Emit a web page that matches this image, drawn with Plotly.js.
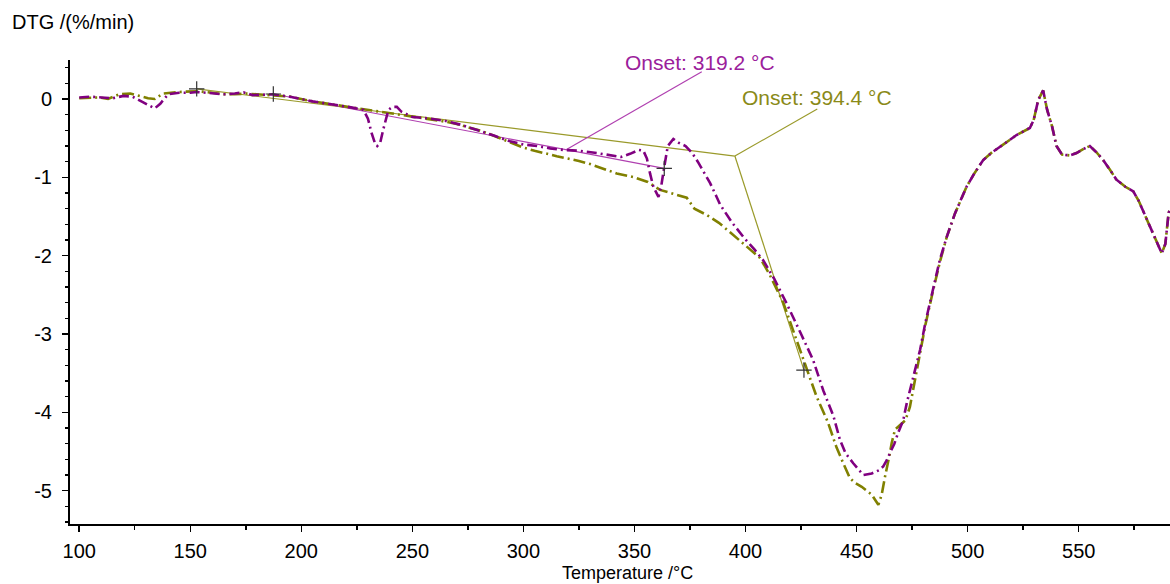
<!DOCTYPE html>
<html>
<head>
<meta charset="utf-8">
<script src="https://cdn.plot.ly/plotly-3.0.1.min.js"></script>
<style>html,body{margin:0;padding:0;background:#fff;}#chart{width:1170px;height:584px;}</style>
</head>
<body>
<div id="chart"></div>
<script>
// Purple series (main part)
const purpleT = [100,105,110,115,120,124,128,131,134,136.5,140,145,150,153,160,165,170,174,178,183,187,195,205,212,217,223,228,230,231.7,233,234.2,235.5,236.8,238,239.2,241,243,245,250,258,265,272,280,287,294,300,306,312,318,325,333,339,344,348,350.2,352,354,355.6,357,358.5,360.8,362,363.5,365,367.5,370,373,376,378.5,381.7,384,387,388.6,394,399,404,408,413,418.5,425,430.4,435,439.6,442.5,445,448.5,451,453,456.8,460,462,463.6,465,467,468.7,471,472.6,476,478.6,481,484.4,487.5];
const purpleD = [0.02,0.03,0.02,0.01,0.04,0.03,-0.03,-0.08,-0.12,-0.06,0.06,0.08,0.08,0.09,0.07,0.06,0.07,0.085,0.05,0.06,0.06,0.03,-0.03,-0.06,-0.08,-0.11,-0.14,-0.25,-0.44,-0.55,-0.6,-0.56,-0.4,-0.25,-0.14,-0.1,-0.1,-0.16,-0.23,-0.25,-0.28,-0.33,-0.4,-0.47,-0.54,-0.58,-0.6,-0.63,-0.65,-0.66,-0.69,-0.72,-0.74,-0.7,-0.67,-0.65,-0.66,-0.76,-0.95,-1.12,-1.25,-1.12,-0.85,-0.6,-0.51,-0.56,-0.6,-0.69,-0.8,-0.95,-1.07,-1.25,-1.35,-1.58,-1.76,-1.92,-2.06,-2.3,-2.61,-3.0,-3.33,-3.72,-4.05,-4.35,-4.52,-4.65,-4.74,-4.8,-4.78,-4.74,-4.69,-4.61,-4.52,-4.4,-4.26,-4.1,-3.88,-3.5,-3.2,-2.85,-2.42,-2.05];

// Olive series (main part)
const oliveT = [100,105,109,113,118,123,127,131,134,137.8,145,150,153,160,165,170,175,180,187,195,205,212,217,223,228,234,240,245,250,255,260,265,270,275,280,285,290,295,300,305,310,315,320,325,330,336,342,350,356,361.5,366.8,373.5,377,382.5,388,393,398,402,406.6,411,417,422,427.6,432,437,441,444,447,449.3,452.3,456.8,458.3,459.8,461.3,462,462.8,465,465.8,467.3,470,472,474,478.6,481,484.4,487.5];
const oliveD = [0.01,0.02,0.02,0.0,0.06,0.07,0.04,0.01,0.0,0.07,0.09,0.1,0.1,0.08,0.06,0.06,0.07,0.06,0.05,0.03,-0.03,-0.06,-0.08,-0.11,-0.13,-0.16,-0.18,-0.2,-0.22,-0.25,-0.27,-0.29,-0.32,-0.36,-0.4,-0.45,-0.51,-0.56,-0.62,-0.66,-0.7,-0.73,-0.76,-0.79,-0.83,-0.89,-0.95,-1.0,-1.06,-1.16,-1.2,-1.26,-1.4,-1.48,-1.58,-1.7,-1.82,-1.92,-2.03,-2.25,-2.6,-3.0,-3.46,-3.8,-4.12,-4.45,-4.65,-4.84,-4.9,-4.95,-5.05,-5.12,-5.18,-5.05,-4.93,-4.82,-4.52,-4.39,-4.22,-4.15,-4.1,-3.93,-3.25,-2.88,-2.45,-2.08];

// Common tail (both curves coincide above ~490 °C)
const tailT = [490.6,494.3,499.5,503,507,511,514.6,518,522,528,529.7,531.8,534,535.8,538,540,542.5,546,549,552,555,558,561,564,567,571,574.6,577,580.6,584,587.4,589,590.5,591.5];
const tailD = [-1.76,-1.46,-1.12,-0.95,-0.78,-0.68,-0.61,-0.54,-0.46,-0.37,-0.27,-0.01,0.11,-0.14,-0.35,-0.6,-0.71,-0.72,-0.69,-0.64,-0.6,-0.68,-0.78,-0.9,-1.03,-1.12,-1.18,-1.3,-1.54,-1.75,-1.97,-1.85,-1.45,-1.4];

// Onset constructions
const purpleBaseT = [187.4, 363.4];
const purpleBaseD = [0.064, -0.885];
const purpleLeaderT = [319.2, 380.3];
const purpleLeaderD = [-0.647, 0.349];
const oliveBaseT = [152.9, 395.2];
const oliveBaseD = [0.13, -0.728];
const oliveTangentT = [395.2, 426.3];
const oliveTangentD = [-0.728, -3.46];
const oliveLeaderT = [395.2, 432.3];
const oliveLeaderD = [-0.728, -0.128];
const crossT = [152.9, 187.4, 363.4, 426.3];
const crossD = [0.13, 0.064, -0.885, -3.46];
const onsetLabels = ['Onset: 319.2 °C', 'Onset: 394.4 °C'];
const xTickVals = [100,150,200,250,300,350,400,450,500,550];
const yTickVals = [0,-1,-2,-3,-4,-5];
const yTickText = ['0','-1','-2','-3','-4','-5'];

const PURPLE = '#800080';
const OLIVE = '#808000';
const FONT = 'Liberation Sans, Arial, sans-serif';

const traces = [
  {x: oliveBaseT, y: oliveBaseD, mode: 'lines', line: {color: '#9a9a2a', width: 1.2}},
  {x: oliveTangentT, y: oliveTangentD, mode: 'lines', line: {color: '#9a9a2a', width: 1.2}},
  {x: oliveLeaderT, y: oliveLeaderD, mode: 'lines', line: {color: '#9a9a2a', width: 1.2}},
  {x: purpleBaseT, y: purpleBaseD, mode: 'lines', line: {color: '#b040b0', width: 1.2}},
  {x: purpleLeaderT, y: purpleLeaderD, mode: 'lines', line: {color: '#b040b0', width: 1.2}},
  {x: oliveT.concat(tailT), y: oliveD.concat(tailD), mode: 'lines',
   line: {color: OLIVE, width: 2.6, dash: '12px,4px,2px,4px'}},
  {x: purpleT.concat(tailT), y: purpleD.concat(tailD), mode: 'lines',
   line: {color: PURPLE, width: 2.6, dash: '10px,4px,2px,4px'}},
  {x: crossT, y: crossD, mode: 'markers',
   marker: {symbol: 'cross-thin', size: 11, line: {color: '#333', width: 1.2}}}
];

const axisCommon = {
  showline: true, linecolor: '#000', linewidth: 2, mirror: false,
  showgrid: false, zeroline: false, ticks: 'outside', tickcolor: '#000',
  tickwidth: 1.5, tickfont: {family: FONT, size: 20, color: '#000'}
};

const layout = {
  width: 1170, height: 584,
  margin: {l: 70, r: 0, t: 60, b: 60},
  paper_bgcolor: '#fff', plot_bgcolor: '#fff',
  showlegend: false,
  xaxis: Object.assign({}, axisCommon, {
    range: [95.86, 591.1], tickvals: xTickVals, ticklen: 6, ticklabelstandoff: 2,
    minor: {dtick: 25, tick0: 0, ticks: 'outside', ticklen: 4, tickcolor: '#000', tickwidth: 1.5}
  }),
  yaxis: Object.assign({}, axisCommon, {
    range: [-5.425, 0.498], tickvals: yTickVals, ticktext: yTickText, ticklen: 6, ticklabelstandoff: 6,
    minor: {dtick: 0.2, tick0: 0, ticks: 'outside', ticklen: 3, tickcolor: '#000', tickwidth: 1.5}
  }),
  annotations: [
    {xref: 'paper', yref: 'paper', x: -0.0545, y: 1.082, xanchor: 'left', yanchor: 'middle',
     text: 'DTG /(%/min)', showarrow: false, font: {family: FONT, size: 20, color: '#000'}},
    {xref: 'paper', yref: 'paper', x: 0.5064, y: -0.1056, xanchor: 'center', yanchor: 'middle',
     text: 'Temperature /°C', showarrow: false, font: {family: FONT, size: 18, color: '#000'}},
    {xref: 'x', yref: 'y', x: 379.5, y: 0.472, xanchor: 'center', yanchor: 'middle',
     text: onsetLabels[0], showarrow: false, font: {family: FONT, size: 21, color: '#9b209b'}},
    {xref: 'x', yref: 'y', x: 432, y: 0.013, xanchor: 'center', yanchor: 'middle',
     text: onsetLabels[1], showarrow: false, font: {family: FONT, size: 21, color: '#8a8a18'}}
  ]
};

Plotly.newPlot('chart', traces, layout, {staticPlot: true, displayModeBar: false});
</script>
</body>
</html>
